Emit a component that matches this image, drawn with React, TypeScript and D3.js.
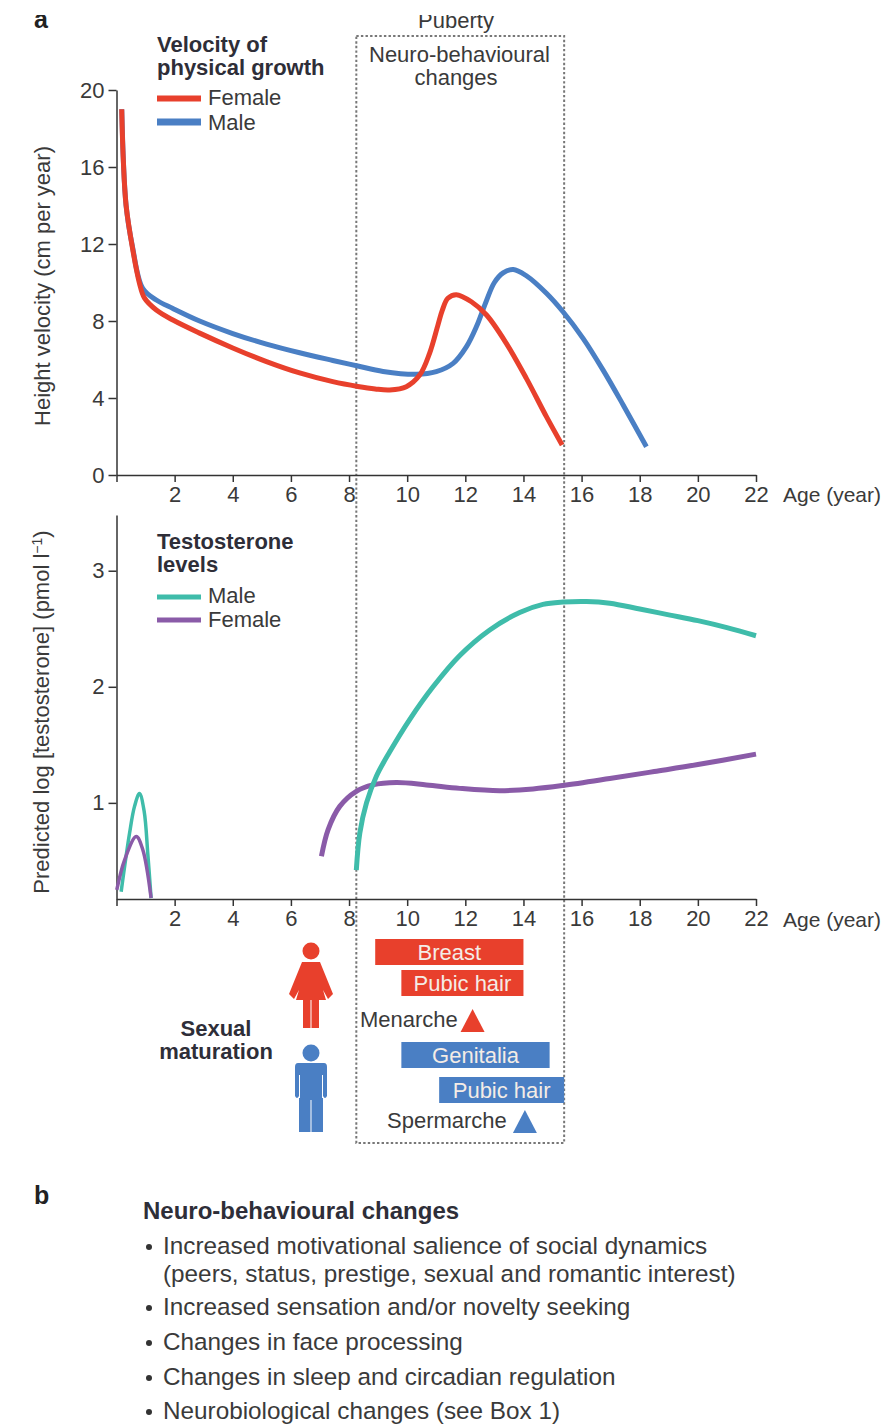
import React, { useEffect, useRef } from "react";
import * as d3 from "d3";

type Pt = [number, number];

const ageTicks = [2, 4, 6, 8, 10, 12, 14, 16, 18, 20, 22];
const velocityTicks = [0, 4, 8, 12, 16, 20];
const testoTicks = [1, 2, 3];

const femaleVelocity: Pt[] = [[0.18, 19], [0.23, 16.5], [0.33, 14], [0.56, 11.7], [0.79, 9.96], [0.96, 9.2], [1.37, 8.57], [1.94, 8.05], [2.86, 7.37], [4, 6.6], [5.16, 5.89], [6.3, 5.3], [7.44, 4.85], [8.3, 4.6], [8.9, 4.47], [9.4, 4.42], [9.97, 4.59], [10.43, 5.19], [10.77, 6.32], [11.06, 7.8], [11.21, 8.57], [11.4, 9.18], [11.69, 9.37], [12.21, 9.0], [12.73, 8.31], [13.41, 6.84], [14.1, 5.02], [14.79, 3.03], [15.33, 1.56]];
const maleVelocity: Pt[] = [[0.18, 19], [0.33, 14], [0.55, 11.86], [0.9, 9.7], [1.37, 9.09], [1.94, 8.65], [2.86, 8.0], [4, 7.35], [5.16, 6.8], [6.3, 6.35], [7.44, 5.95], [8.3, 5.66], [9.17, 5.38], [10.32, 5.23], [11, 5.37], [11.58, 5.8], [12.04, 6.67], [12.38, 7.7], [12.7, 8.95], [13.0, 10.0], [13.3, 10.5], [13.65, 10.68], [14.1, 10.35], [14.79, 9.44], [15.36, 8.48], [16.05, 7.1], [16.74, 5.45], [17.43, 3.64], [18.23, 1.47]];

const maleInfant: Pt[] = [[0.16, 0.235], [0.45, 0.74], [0.62, 0.97], [0.79, 1.08], [0.95, 0.93], [1.08, 0.55], [1.19, 0.18]];
const femaleInfant: Pt[] = [[0.01, 0.25], [0.28, 0.51], [0.68, 0.71], [0.9, 0.6], [1.19, 0.18]];
const maleTesto: Pt[] = [[8.25, 0.42], [8.37, 0.74], [8.6, 1.0], [8.94, 1.23], [9.4, 1.44], [10.09, 1.72], [10.89, 2.0], [11.81, 2.27], [12.84, 2.49], [13.87, 2.64], [14.67, 2.71], [15.36, 2.73], [16.17, 2.735], [16.97, 2.72], [18, 2.67], [19, 2.62], [20, 2.57], [21, 2.51], [22, 2.44]];
const femaleTesto: Pt[] = [[7.05, 0.54], [7.28, 0.77], [7.68, 0.97], [8.25, 1.1], [8.82, 1.155], [9.63, 1.175], [10.66, 1.155], [11.81, 1.125], [13.18, 1.105], [14.33, 1.12], [15.36, 1.15], [16.97, 1.21], [18.5, 1.27], [20, 1.33], [22, 1.42]];

const maturationBars = [
  { label: "Breast", from: 8.9, to: 14.0, sex: "f", top: 939 },
  { label: "Pubic hair", from: 9.8, to: 14.0, sex: "f", top: 970 },
  { label: "Genitalia", from: 9.8, to: 14.9, sex: "m", top: 1042 },
  { label: "Pubic hair", from: 11.1, to: 15.4, sex: "m", top: 1077 },
];
const pubertyStart = 8.25;
const pubertyEnd = 15.4;
const menarcheAge = 12.25;
const spermarcheAge = 14.05;

const bullets = [
  ["Increased motivational salience of social dynamics", "(peers, status, prestige, sexual and romantic interest)"],
  ["Increased sensation and/or novelty seeking"],
  ["Changes in face processing"],
  ["Changes in sleep and circadian regulation"],
  ["Neurobiological changes (see Box 1)"],
];
const bulletY = [1254, 1315, 1350, 1385, 1419];

const RED = "#e8402c";
const BLUE = "#4a7fc4";
const TEAL = "#3fbcaa";
const PURPLE = "#8a5ba8";
const INK = "#3a3a3a";
const FONT = "'Liberation Sans', Arial, sans-serif";

const x = d3.scaleLinear().domain([0, 22]).range([116.5, 756]);
const yVel = d3.scaleLinear().domain([0, 20]).range([475, 90]);
const yTes = d3.scaleLinear().domain([0.172, 3.48]).range([899, 515]);

function App() {
  const topAxes = useRef<SVGGElement>(null);
  const bottomAxes = useRef<SVGGElement>(null);

  useEffect(() => {
    const style = (g: any) => {
      g.selectAll("path,line").attr("stroke", "#333").attr("stroke-width", 1.5);
      g.selectAll("text").attr("fill", INK).attr("font-size", 22).attr("font-family", FONT);
    };
    const drawAxes = (node: SVGGElement, yScale: any, bottom: number, ticks: number[]) => {
      const root = d3.select(node);
      root.selectAll("*").remove();
      root.append("g")
        .attr("transform", `translate(0,${bottom})`)
        .call(d3.axisBottom(x).tickValues([0, ...ageTicks]).tickSize(7).tickSizeOuter(0).tickFormat((d: any) => (d === 0 ? "" : String(d))).tickPadding(4) as any)
        .call(style);
      root.append("g")
        .attr("transform", `translate(${x(0)},0)`)
        .call(d3.axisLeft(yScale).tickValues(ticks).tickSize(8).tickSizeOuter(0).tickFormat((d: any) => String(d)).tickPadding(4) as any)
        .call(style);
    };
    drawAxes(topAxes.current!, yVel, 475, velocityTicks);
    drawAxes(bottomAxes.current!, yTes, 899, testoTicks);
  }, []);

  const lineVel = d3.line<Pt>().x(d => x(d[0])).y(d => yVel(d[1])).curve(d3.curveCatmullRom);
  const lineTes = d3.line<Pt>().x(d => x(d[0])).y(d => yTes(d[1])).curve(d3.curveCatmullRom);

  const triangle = (age: number, top: number, color: string) => {
    const cx = x(age);
    const tri = d3.path();
    tri.moveTo(cx, top);
    tri.lineTo(cx + 12, top + 23);
    tri.lineTo(cx - 12, top + 23);
    tri.closePath();
    return <path d={tri.toString()} fill={color} />;
  };

  const text = { fontFamily: FONT, fill: INK, fontSize: 22 };
  const bold = { fontFamily: FONT, fill: "#2e2e38", fontSize: 22, fontWeight: 700 };

  return (
    <svg width={888} height={1425} style={{ position: "absolute", left: 0, top: 0, background: "#fff" }}>
      <defs>
        <clipPath id="page"><rect x={0} y={15} width={888} height={1410} /></clipPath>
      </defs>
      <g clipPath="url(#page)">
        <text x={34} y={28} style={{ ...bold, fontSize: 25, fill: "#222" }}>a</text>
        <text x={456} y={28} textAnchor="middle" style={text}>Puberty</text>
      </g>

      <rect x={x(pubertyStart)} y={36} width={x(pubertyEnd) - x(pubertyStart)} height={1107} fill="none" stroke="#777" strokeWidth={2} strokeDasharray="2.4 2.2" />
      <text x={459.5} y={62} textAnchor="middle" style={text}>Neuro-behavioural</text>
      <text x={456} y={85} textAnchor="middle" style={text}>changes</text>

      <text x={157} y={52} style={bold}>Velocity of</text>
      <text x={157} y={75} style={bold}>physical growth</text>
      <line x1={157} x2={201} y1={98.5} y2={98.5} stroke={RED} strokeWidth={6} />
      <line x1={157} x2={201} y1={122} y2={122} stroke={BLUE} strokeWidth={7} />
      <text x={208} y={105} style={text}>Female</text>
      <text x={208} y={130} style={text}>Male</text>

      <g ref={topAxes} />
      <text transform="translate(50,286) rotate(-90)" textAnchor="middle" style={text}>Height velocity (cm per year)</text>
      <text x={783} y={502} style={{ ...text, fontSize: 21 }}>Age (year)</text>

      <path d={lineVel(maleVelocity)!} fill="none" stroke={BLUE} strokeWidth={5} />
      <path d={lineVel(femaleVelocity)!} fill="none" stroke={RED} strokeWidth={5} />

      <text x={157} y={549} style={bold}>Testosterone</text>
      <text x={157} y={572} style={bold}>levels</text>
      <line x1={157} x2={201} y1={597} y2={597} stroke={TEAL} strokeWidth={5} />
      <line x1={157} x2={201} y1={620} y2={620} stroke={PURPLE} strokeWidth={5} />
      <text x={208} y={603} style={text}>Male</text>
      <text x={208} y={627} style={text}>Female</text>

      <g ref={bottomAxes} />
      <text transform="translate(49,712) rotate(-90)" textAnchor="middle" style={text}>
        Predicted log [testosterone] (pmol l<tspan dy={-7} fontSize={14}>−1</tspan><tspan dy={7}>)</tspan>
      </text>
      <text x={783} y={927} style={{ ...text, fontSize: 21 }}>Age (year)</text>

      <path d={lineTes(maleInfant)!} fill="none" stroke={TEAL} strokeWidth={3.5} />
      <path d={lineTes(femaleInfant)!} fill="none" stroke={PURPLE} strokeWidth={3.5} />
      <path d={lineTes(femaleTesto)!} fill="none" stroke={PURPLE} strokeWidth={5} />
      <path d={lineTes(maleTesto)!} fill="none" stroke={TEAL} strokeWidth={5} />

      {maturationBars.map(b => (
        <g key={b.label + b.sex}>
          <rect x={x(b.from)} y={b.top} width={x(b.to) - x(b.from)} height={26} fill={b.sex === "f" ? RED : BLUE} />
          <text x={(x(b.from) + x(b.to)) / 2} y={b.top + 21} textAnchor="middle" style={{ ...text, fill: "#f4ece6" }}>{b.label}</text>
        </g>
      ))}
      <text x={360} y={1027} style={text}>Menarche</text>
      {triangle(menarcheAge, 1009, RED)}
      <text x={387} y={1128} style={text}>Spermarche</text>
      {triangle(spermarcheAge, 1110, BLUE)}

      <text x={216} y={1036} textAnchor="middle" style={bold}>Sexual</text>
      <text x={216} y={1059} textAnchor="middle" style={bold}>maturation</text>

      {/* pictograms */}
      <circle cx={311} cy={951} r={8.5} fill={RED} />
      <path d="M302 962 H320 L333 994 L328 999 L323 990 L326 1000 H319 V1028 H311.5 V1000 H310.5 V1028 H303 V1000 H296 L299 990 L294 999 L289 994 Z" fill={RED} />
      <circle cx={311} cy={1053} r={8.5} fill={BLUE} />
      <path d="M298 1063 H324 Q327 1063 327 1067 V1096 Q325 1100 323 1096 V1132 H311.5 V1100 H310.5 V1132 H299 V1096 Q297 1100 295 1096 V1067 Q295 1063 298 1063 Z" fill={BLUE} />
      <line x1={299.5} x2={299.5} y1={1075} y2={1098} stroke="#fff" strokeWidth={1} />
      <line x1={322.5} x2={322.5} y1={1075} y2={1098} stroke="#fff" strokeWidth={1} />

      <text x={34} y={1204} style={{ ...bold, fontSize: 25, fill: "#222" }}>b</text>
      <text x={143} y={1219} style={{ ...bold, fontSize: 24 }}>Neuro-behavioural changes</text>
      {bullets.map((lines, i) => (
        <g key={i}>
          <circle cx={149} cy={bulletY[i] - 7} r={3} fill="#333" />
          {lines.map((l, j) => (
            <text key={j} x={163} y={bulletY[i] + j * 27.5} style={{ ...text, fontSize: 24.3 }}>{l}</text>
          ))}
        </g>
      ))}
    </svg>
  );
}

export default App;
